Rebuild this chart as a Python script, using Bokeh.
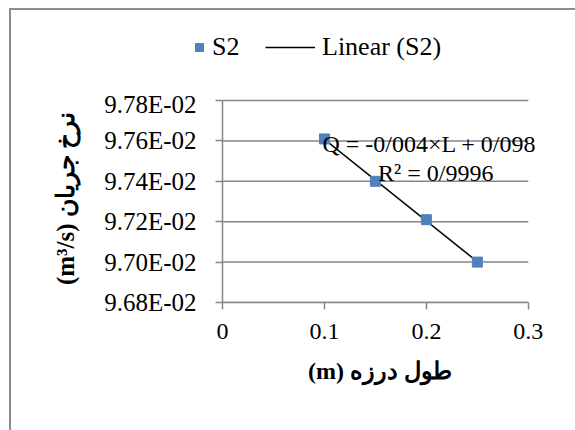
import numpy as np
from bokeh.plotting import figure
from bokeh.layouts import column
from bokeh.models import (ColumnDataSource, FixedTicker, Legend, LegendItem,
                          Label, Range1d)
from bokeh.embed import file_html
from bokeh.resources import INLINE

# ---- data ----
gap_length = [0.10, 0.15, 0.20, 0.25]
flow_rate = [0.09761, 0.09740, 0.09721, 0.09700]
x_ticks = [0.0, 0.1, 0.2, 0.3]
x_tick_labels = ["0", "0.1", "0.2", "0.3"]
y_ticks = [0.0968, 0.0970, 0.0972, 0.0974, 0.0976, 0.0978]
y_tick_labels = ["9.68E-02", "9.70E-02", "9.72E-02", "9.74E-02", "9.76E-02", "9.78E-02"]
series_name = "S2"
trend_name = "Linear (S2)"
equation_text = "Q = -0/004×L + 0/098"
r2_text = "R² = 0/9996"
x_title = "(m) طول درزه"
y_title = "(m³/s) نرخ جریان"

# linear trendline from the data
slope, intercept = np.polyfit(gap_length, flow_rate, 1)
trend_x = [min(gap_length), max(gap_length)]
trend_y = [slope * v + intercept for v in trend_x]

FONT = "Liberation Serif"
GRAY = "#868686"
BLUE = "#4F81BD"
# frame is slightly larger than the axes box so the equation is not clipped
X_END = 0.309
Y_END = 0.09783

W = 564
LEG_H = 80

src = ColumnDataSource(dict(x=gap_length, y=flow_rate))
tsrc = ColumnDataSource(dict(x=trend_x, y=trend_y))

# ---------- legend strip (its ranges keep the data out of view) ----------
pl = figure(width=W, height=LEG_H, output_backend="svg", toolbar_location=None,
            x_range=Range1d(0, 1), y_range=Range1d(1, 2),
            x_axis_type=None, y_axis_type=None, min_border=0)
pl.frame_align = False
pl.outline_line_color = None
pl.grid.visible = False
lg_pts = pl.scatter("x", "y", source=src, marker="square", size=10,
                    fill_color=BLUE, line_color=BLUE)
lg_line = pl.line("x", "y", source=tsrc, line_color="black", line_width=1.5)
common = dict(orientation="horizontal", label_text_font=FONT,
              label_text_font_size="26px", label_text_color="black",
              border_line_color=None, background_fill_alpha=0,
              glyph_height=20, padding=0, margin=0, spacing=0)
pl.add_layout(Legend(items=[LegendItem(label=series_name, renderers=[lg_pts])],
                     location=(178, 28), glyph_width=20, label_standoff=3,
                     **common))
pl.add_layout(Legend(items=[LegendItem(label=trend_name, renderers=[lg_line])],
                     location=(254, 28), glyph_width=50, label_standoff=7,
                     **common))

# ---------- main chart ----------
p = figure(width=W, height=340, output_backend="svg", toolbar_location=None,
           x_range=Range1d(x_ticks[0], X_END),
           y_range=Range1d(y_ticks[0], Y_END),
           min_border_left=211, min_border_right=38,
           min_border_top=4, min_border_bottom=128)
p.frame_align = False
p.outline_line_color = None
p.grid.visible = False

# horizontal gridlines at the y ticks, spanning the axis extent
p.segment(x0=[x_ticks[0]] * len(y_ticks), x1=[x_ticks[-1]] * len(y_ticks),
          y0=y_ticks, y1=y_ticks, line_color=GRAY, line_width=1.5)

p.line("x", "y", source=tsrc, line_color="black", line_width=1.5)
p.scatter("x", "y", source=src, marker="square", size=10,
          fill_color=BLUE, line_color=BLUE)

p.xaxis.bounds = (x_ticks[0], x_ticks[-1])
p.yaxis.bounds = (y_ticks[0], y_ticks[-1])
p.xaxis.ticker = FixedTicker(ticks=x_ticks)
p.yaxis.ticker = FixedTicker(ticks=y_ticks)
p.xaxis.major_label_overrides = {t: l for t, l in zip(x_ticks, x_tick_labels)}
p.yaxis.major_label_overrides = {t: l for t, l in zip(y_ticks, y_tick_labels)}
for ax in (p.xaxis[0], p.yaxis[0]):
    ax.axis_line_color = GRAY
    ax.axis_line_width = 1.5
    ax.major_tick_line_color = GRAY
    ax.major_tick_line_width = 1.5
    ax.major_tick_in = 0
    ax.major_tick_out = 7
    ax.minor_tick_line_color = None
    ax.major_label_text_font = FONT
    ax.major_label_text_color = "black"
    ax.axis_label_text_font = FONT
    ax.axis_label_text_font_style = "bold"
    ax.axis_label_text_color = "black"
p.xaxis.major_label_text_font_size = "24px"
p.yaxis.major_label_text_font_size = "25px"
p.xaxis.axis_label_text_font_size = "24px"
p.yaxis.axis_label_text_font_size = "25px"
p.xaxis.axis_label = x_title
p.yaxis.axis_label = y_title
p.yaxis.major_label_standoff = 19
p.xaxis.major_label_standoff = 14
p.yaxis.axis_label_standoff = 22
p.xaxis.axis_label_standoff = 16

# trendline labels
p.add_layout(Label(x=0.098, y=0.097587, text=equation_text, text_font=FONT,
                   text_font_size="24px", text_color="black",
                   text_baseline="alphabetic", text_align="left"))
p.add_layout(Label(x=0.1526, y=0.097439, text=r2_text, text_font=FONT,
                   text_font_size="24px", text_color="black",
                   text_baseline="alphabetic", text_align="left"))

layout = column(pl, p, spacing=0,
                styles={"margin-left": "9px", "margin-top": "8px",
                        "border-left": "2px solid #8c8c8c",
                        "border-top": "2px solid #8c8c8c"})

open("out.html", "w").write(file_html(layout, INLINE))
